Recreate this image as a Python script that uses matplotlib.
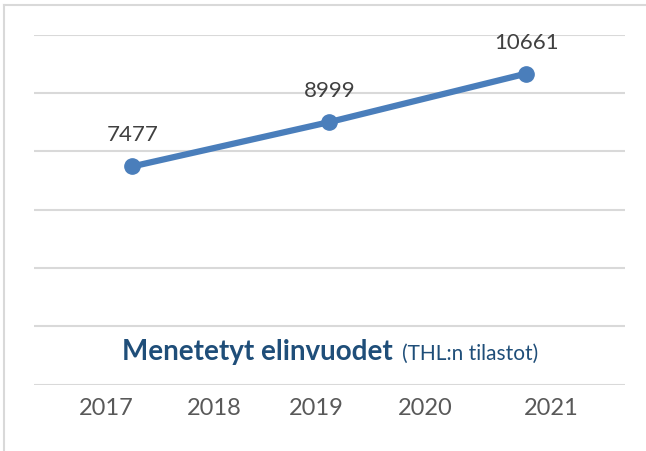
import matplotlib
matplotlib.use("Agg")
import matplotlib.pyplot as plt
from matplotlib.lines import Line2D

# Data
categories = ["2017", "2019", "2021"]
values = [7477, 8999, 10661]
year_labels = ["2017", "2018", "2019", "2020", "2021"]
title_main = "Menetetyt elinvuodet"
title_sub = "(THL:n tilastot)"

W, H, DPI = 646, 451, 100
plt.rcParams['font.family'] = ['Lato', 'DejaVu Sans']

fig = plt.figure(figsize=(W / DPI, H / DPI), dpi=DPI)
fig.patch.set_facecolor("white")

# frame lines (top and left)
fig.add_artist(Line2D([4 / W, 1.0], [1 - 5 / H, 1 - 5 / H], color="#D9D9D9", lw=1.5))
fig.add_artist(Line2D([4 / W, 4 / W], [0, 1 - 5 / H], color="#D9D9D9", lw=1.5))

left, right = 34 / W, 625 / W
bottom, top = 1 - 384.5 / H, 1 - 34.5 / H
ax = fig.add_axes([left, bottom, right - left, top - bottom])

x = list(range(len(categories)))
ax.plot(x, values, color="#4A7EBB", lw=4.5, marker="o", markersize=11,
        solid_capstyle="round", zorder=3)
for xi, v in zip(x, values):
    ax.annotate(str(v), (xi, v), xytext=(0, 25), textcoords="offset pixels",
                ha="center", va="baseline", fontsize=16, color="#404040")

ax.set_xlim(-0.5, len(categories) - 0.5)
ax.set_ylim(0, 12000)
ax.set_yticks(range(0, 12001, 2000))
ax.yaxis.grid(True, color="#D9D9D9", lw=1.5)
ax.set_axisbelow(True)
ax.set_xticks([])
ax.tick_params(left=False, labelleft=False)
for s in ax.spines.values():
    s.set_visible(False)

# year labels text row
year_x = [106, 214, 316, 425, 551]
for lab, px in zip(year_labels, year_x):
    fig.text(px / W, 1 - 415 / H, lab, ha="center", va="baseline",
             fontsize=17, color="#595959")

# title in two parts, centred
tcolor = "#1F4E79"
t1 = fig.text(0, 1 - 360 / H, title_main, ha="left", va="baseline",
              fontsize=20, fontweight="bold", color=tcolor)
t2 = fig.text(0, 1 - 360 / H, title_sub, ha="left", va="baseline",
              fontsize=15, color=tcolor)
fig.canvas.draw()
r = fig.canvas.get_renderer()
w1 = t1.get_window_extent(r).width
w2 = t2.get_window_extent(r).width
gap = 9
total = w1 + gap + w2
cx = 330.5
start = cx - total / 2
t1.set_x(start / W)
t2.set_x((start + w1 + gap) / W)

fig.savefig("out.png", dpi=DPI, facecolor="white")
